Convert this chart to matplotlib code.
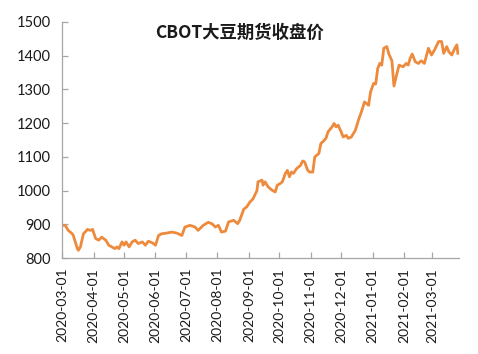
import matplotlib
matplotlib.use('Agg')
import matplotlib.pyplot as plt
import matplotlib.dates as mdates
import pandas as pd

# CBOT soybean futures close
dates = ['2020-03-02', '2020-03-04', '2020-03-07', '2020-03-11', '2020-03-12', '2020-03-16',
         '2020-03-17', '2020-03-19', '2020-03-22', '2020-03-26', '2020-03-29', '2020-03-31',
         '2020-04-03', '2020-04-06', '2020-04-09', '2020-04-13', '2020-04-16', '2020-04-19',
         '2020-04-22', '2020-04-24', '2020-04-26', '2020-04-29', '2020-05-01', '2020-05-03',
         '2020-05-06', '2020-05-09', '2020-05-12', '2020-05-15', '2020-05-19', '2020-05-22',
         '2020-05-25', '2020-05-29', '2020-06-01', '2020-06-04', '2020-06-07', '2020-06-12',
         '2020-06-17', '2020-06-22', '2020-06-27', '2020-06-30', '2020-07-05', '2020-07-10',
         '2020-07-13', '2020-07-18', '2020-07-23', '2020-07-27', '2020-07-30', '2020-08-02',
         '2020-08-05', '2020-08-09', '2020-08-12', '2020-08-17', '2020-08-21', '2020-08-23',
         '2020-08-27', '2020-08-30', '2020-09-02', '2020-09-05', '2020-09-09', '2020-09-10',
         '2020-09-14', '2020-09-15', '2020-09-17', '2020-09-20', '2020-09-24', '2020-09-27',
         '2020-09-29', '2020-10-02', '2020-10-04', '2020-10-07', '2020-10-09', '2020-10-11',
         '2020-10-13', '2020-10-15', '2020-10-18', '2020-10-22', '2020-10-24', '2020-10-26',
         '2020-10-29', '2020-10-31', '2020-11-03', '2020-11-05', '2020-11-07', '2020-11-09',
         '2020-11-11', '2020-11-13', '2020-11-16', '2020-11-18', '2020-11-22', '2020-11-24',
         '2020-11-26', '2020-11-28', '2020-12-01', '2020-12-03', '2020-12-06', '2020-12-08',
         '2020-12-11', '2020-12-15', '2020-12-18', '2020-12-21', '2020-12-24', '2020-12-28',
         '2020-12-30', '2021-01-02', '2021-01-04', '2021-01-06', '2021-01-08', '2021-01-10',
         '2021-01-12', '2021-01-15', '2021-01-17', '2021-01-20', '2021-01-22', '2021-01-25',
         '2021-01-27', '2021-01-31', '2021-02-03', '2021-02-05', '2021-02-07', '2021-02-09',
         '2021-02-12', '2021-02-15', '2021-02-18', '2021-02-21', '2021-02-25', '2021-02-28',
         '2021-03-03', '2021-03-07', '2021-03-10', '2021-03-12', '2021-03-15', '2021-03-17',
         '2021-03-20', '2021-03-23', '2021-03-25', '2021-03-26']
close = [897, 897, 882, 872, 867, 828,
         823, 833, 872, 885, 882, 885,
         858, 853, 862, 853, 838, 833,
         828, 833, 828, 848, 838, 848,
         833, 848, 853, 843, 848, 838,
         850, 845, 838, 867, 872, 874,
         877, 874, 867, 892, 897, 892,
         882, 897, 906, 901, 892, 897,
         877, 880, 907, 912, 902, 912,
         945, 952, 966, 975, 1000, 1026,
         1031, 1016, 1026, 1011, 1001, 996,
         1016, 1021, 1026, 1051, 1060, 1041,
         1055, 1051, 1065, 1075, 1088, 1085,
         1060, 1055, 1055, 1100, 1105, 1110,
         1140, 1145, 1155, 1174, 1189, 1199,
         1189, 1194, 1174, 1159, 1164, 1155,
         1159, 1179, 1209, 1234, 1263, 1253,
         1293, 1318, 1316, 1362, 1377, 1372,
         1422, 1427, 1405, 1385, 1310, 1348,
         1372, 1367, 1377, 1372, 1392, 1405,
         1382, 1377, 1385, 1377, 1422, 1402,
         1417, 1442, 1442, 1407, 1427, 1412,
         1402, 1422, 1432, 1407]
month_ticks = ['2020-03-01', '2020-04-01', '2020-05-01', '2020-06-01', '2020-07-01',
               '2020-08-01', '2020-09-01', '2020-10-01', '2020-11-01', '2020-12-01',
               '2021-01-01', '2021-02-01', '2021-03-01']
yticks = [800, 900, 1000, 1100, 1200, 1300, 1400, 1500]
title = 'CBOT大豆期货收盘价'

x = pd.to_datetime(dates)
ticks = pd.to_datetime(month_ticks)

fig = plt.figure(figsize=(4.78, 3.54), dpi=100)
ax = fig.add_axes([0.13, 0.271, 0.83, 0.667])

ax.plot(x, close, color='#EE8A3C', lw=2.0, solid_joinstyle='round')

ax.set_ylim(800, 1500)
ax.set_yticks(yticks)
ax.set_xlim(pd.Timestamp('2020-03-01'), pd.Timestamp('2021-03-27'))
ax.set_xticks(ticks)
ax.xaxis.set_major_formatter(mdates.DateFormatter('%Y-%m-%d'))

for s in ['top', 'right']:
    ax.spines[s].set_visible(False)
for s in ['left', 'bottom']:
    ax.spines[s].set_color('#A6A6A6')
    ax.spines[s].set_linewidth(0.9)

ax.tick_params(axis='both', direction='in', length=4, width=0.9, color='#A6A6A6',
               labelsize=10, labelcolor='#1a1a1a')
ax.tick_params(axis='y', labelsize=10.5, pad=8)
ax.tick_params(axis='x', pad=7, labelrotation=90)
for lab in ax.get_xticklabels() + ax.get_yticklabels():
    lab.set_family('Lato')

fig.text(0.502, 0.907, title, ha='center', va='center', fontsize=12.5, fontweight='bold',
         family=['Noto Sans CJK SC', 'DejaVu Sans'], color='#1a1a1a')

fig.savefig('out.png', dpi=100)
